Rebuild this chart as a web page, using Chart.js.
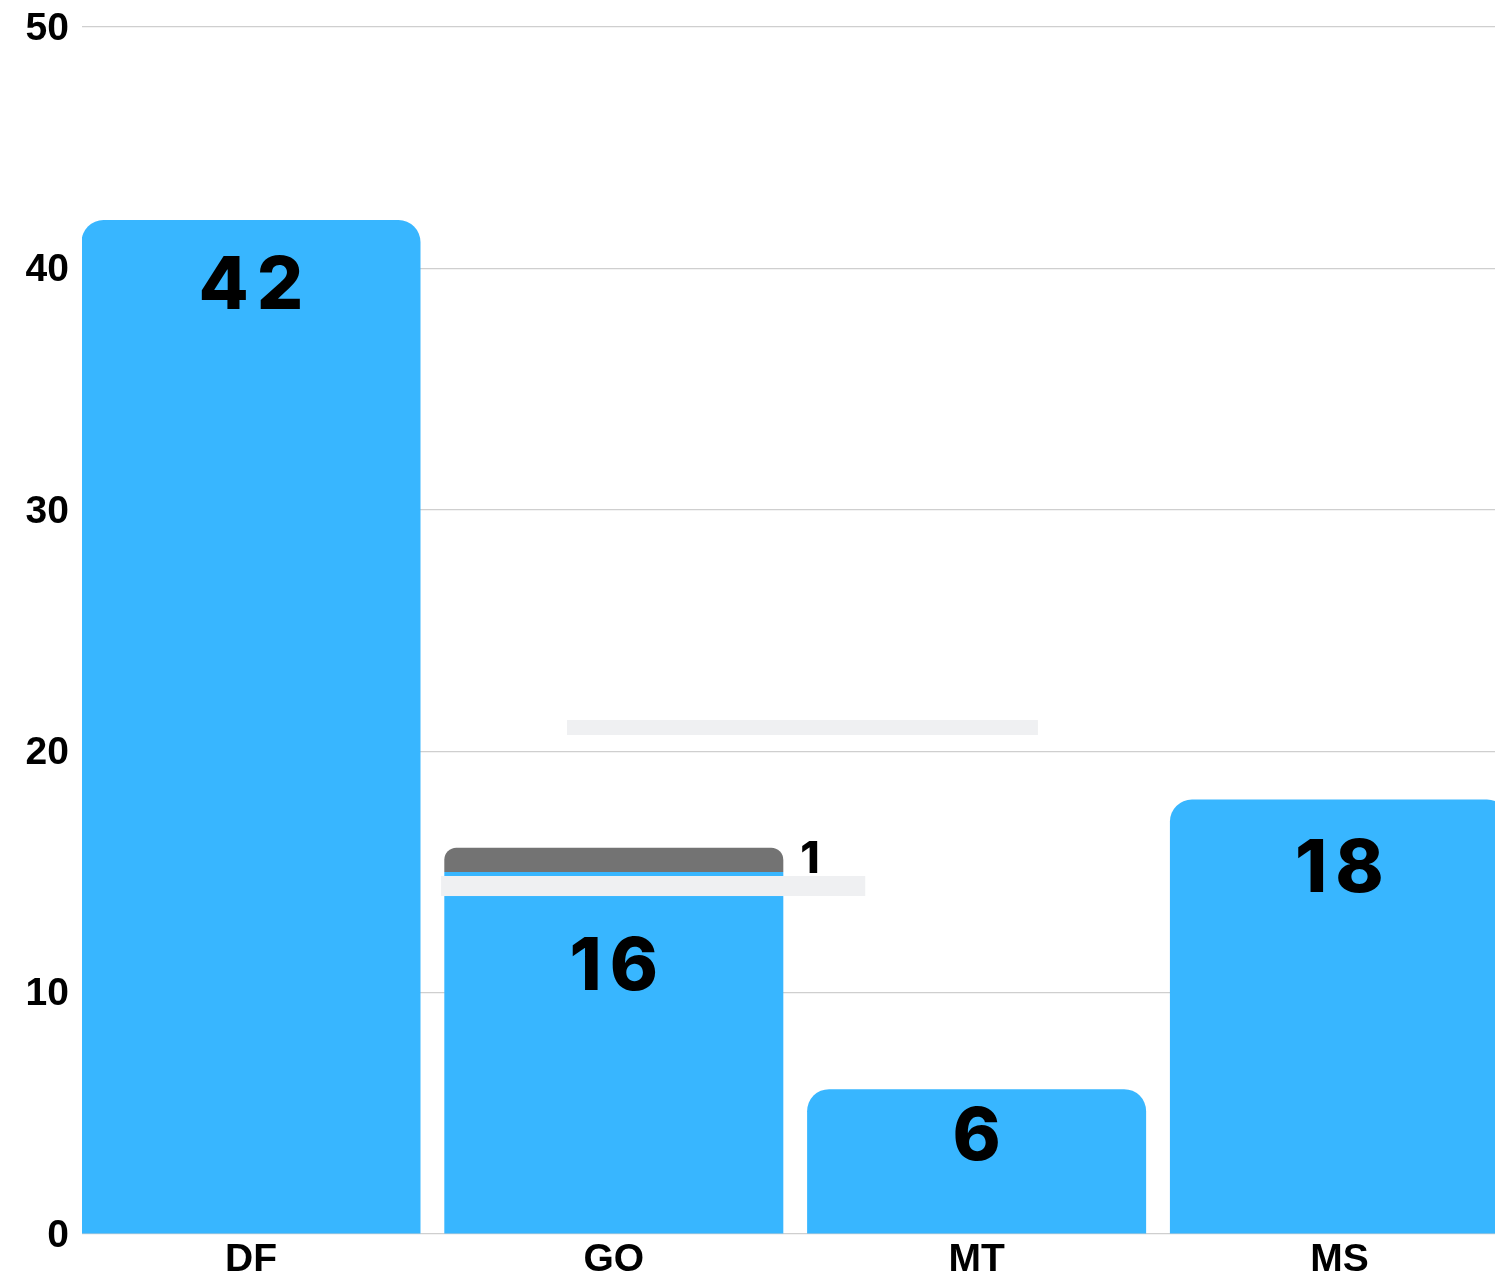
<!DOCTYPE html>
<html>
<head>
<meta charset="utf-8">
<script src="https://cdn.jsdelivr.net/npm/chart.js@4.4.1/dist/chart.umd.min.js"></script>
<style>
  html, body { margin: 0; padding: 0; background: #ffffff; overflow: hidden; }
  #wrap { width: 1495px; height: 1278px; position: relative; }
</style>
</head>
<body>
<div id="wrap"><canvas id="c"></canvas></div>
<script>
// ---- data ----
const categories = ['DF', 'GO', 'MT', 'MS'];
const mainValues = [42, 15, 6, 18];
const extraValues = [0, 1, 0, 0];
const yTicks = [0, 10, 20, 30, 40, 50];

const BLUE = '#38B6FF';
const GRAY = '#737373';

const toPoints = arr => arr.map((v, i) => ({ x: i, y: v }));

const labelPlugin = {
  id: 'valueLabels',
  afterDatasetsDraw(chart, args, opts) {
    const ctx = chart.ctx;
    const xs = chart.scales.x, ys = chart.scales.y;
    ctx.save();
    // light placeholder boxes (positions in data units)
    ctx.fillStyle = '#EFF0F2';
    (opts.boxes || []).forEach(b => {
      const l = xs.getPixelForValue(b.x0), r = xs.getPixelForValue(b.x1);
      const t = ys.getPixelForValue(b.y1), bt = ys.getPixelForValue(b.y0);
      ctx.fillRect(l, t, r - l, bt - t);
    });
    const m0 = chart.getDatasetMeta(0), m1 = chart.getDatasetMeta(1);
    ctx.fillStyle = '#000';
    ctx.font = '800 73px Inter, "Open Sans", sans-serif';
    try { ctx.letterSpacing = '8px'; } catch (e) {}
    ctx.textAlign = 'center';
    ctx.textBaseline = 'top';
    m0.data.forEach((bar, i) => {
      const total = mainValues[i] + extraValues[i];
      const nudge = (opts.insideOffset || [])[i] ?? 30;
      ctx.fillText(String(total), bar.x + 4, bar.y + nudge);
    });
    ctx.font = '800 44px Inter, "Open Sans", sans-serif';
    try { ctx.letterSpacing = '0px'; } catch (e) {}
    ctx.textAlign = 'left';
    ctx.textBaseline = 'middle';
    m1.data.forEach((bar, i) => {
      if (!extraValues[i]) return;
      const p = bar.getProps(['x', 'y', 'base', 'width'], true);
      ctx.fillText(String(extraValues[i]), p.x + p.width / 2 + 17, (p.y + p.base) / 2);
    });
    ctx.restore();
  }
};

new Chart(document.getElementById('c'), {
  type: 'bar',
  data: {
    datasets: [
      { data: toPoints(mainValues), backgroundColor: BLUE, borderRadius: 22, borderSkipped: 'start' },
      { data: toPoints(extraValues), backgroundColor: GRAY, borderRadius: 22, borderSkipped: 'start' }
    ]
  },
  plugins: [labelPlugin],
  options: {
    responsive: true,
    maintainAspectRatio: false,
    animation: false,
    barPercentage: 0.9344,
    categoryPercentage: 1,
    layout: { padding: { top: 27, left: 0, right: 0, bottom: 0 } },
    plugins: {
      legend: { display: false },
      tooltip: { enabled: false },
      valueLabels: {
        insideOffset: [30, 60, 12, 34],
        boxes: [
          { x0: 0.871, x1: 2.169, y0: 20.67, y1: 21.29 },
          { x0: 0.524, x1: 1.693, y0: 14.0, y1: 14.83 }
        ]
      }
    },
    scales: {
      x: {
        type: 'linear',
        stacked: true,
        offset: false,
        min: -0.4658,
        max: 3.4288,
        afterBuildTicks: s => { s.ticks = categories.map((c, i) => ({ value: i })); },
        afterFit: s => { s.height = 44; s.paddingLeft = 0; s.paddingRight = 0; },
        grid: { display: false, drawTicks: false, offset: false },
        border: { display: false },
        ticks: {
          callback: v => categories[v],
          color: '#000',
          padding: 3,
          maxRotation: 0,
          autoSkip: false,
          font: { family: '"Liberation Sans", Arial, sans-serif', size: 39, weight: 'bold' }
        }
      },
      y: {
        stacked: true,
        min: 0,
        max: 50,
        afterBuildTicks: s => { s.ticks = yTicks.map(v => ({ value: v })); },
        afterFit: s => { s.width = 82; s.paddingTop = 0; s.paddingBottom = 0; },
        grid: { color: '#cfcfcf', lineWidth: 1.2, drawTicks: false },
        border: { display: false },
        ticks: {
          color: '#000',
          padding: 13,
          labelOffset: 2,
          font: { family: '"Liberation Sans", Arial, sans-serif', size: 39, weight: 'bold' }
        }
      }
    }
  }
});
</script>
</body>
</html>
